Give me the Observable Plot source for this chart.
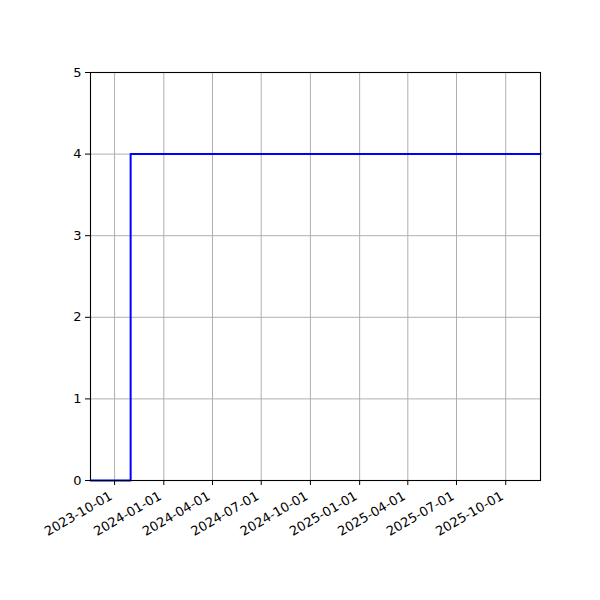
<!DOCTYPE html>
<html>
<head>
<meta charset="utf-8">
<script src="https://cdn.jsdelivr.net/npm/d3@7"></script>
<script src="https://cdn.jsdelivr.net/npm/@observablehq/plot@0.6"></script>
<style>
html, body { margin: 0; padding: 0; background: #fff; }
svg { display: block; }
</style>
</head>
<body>
<div id="chart"></div>
<script>
const dates = ["2023-08-17", "2023-10-31", "2025-12-05"];
const values = [0, 4, 4];
const xTicks = ["2023-10-01", "2024-01-01", "2024-04-01", "2024-07-01", "2024-10-01", "2025-01-01", "2025-04-01", "2025-07-01", "2025-10-01"];
const yTicks = [0, 1, 2, 3, 4, 5];

const parse = d3.utcParse("%Y-%m-%d");
const fmt = d3.utcFormat("%Y-%m-%d");
const data = dates.map((d, i) => ({date: parse(d), value: values[i]}));
const xTickDates = xTicks.map(parse);

const chart = Plot.plot({
  width: 600,
  height: 600,
  marginLeft: 90,
  marginRight: 60,
  marginTop: 72,
  marginBottom: 120,
  style: {fontFamily: "DejaVu Sans", fontSize: "13px", background: "#fff", color: "#000"},
  x: {
    type: "utc",
    domain: [data[0].date, data[data.length - 1].date],
    ticks: xTickDates,
    label: null
  },
  y: {
    domain: [0, 5],
    ticks: yTicks,
    label: null
  },
  marks: [
    Plot.gridX(xTickDates, {stroke: "#b0b0b0", strokeOpacity: 1, strokeWidth: 1}),
    Plot.gridY(yTicks, {stroke: "#b0b0b0", strokeOpacity: 1, strokeWidth: 1}),
    Plot.line(data, {x: "date", y: "value", curve: "step-after", stroke: "#0000ff", strokeWidth: 2}),
    Plot.frame({stroke: "#000", strokeWidth: 1.1}),
    Plot.axisX(xTickDates, {tickFormat: () => "", tickSize: 5, label: null}),
    Plot.text(xTickDates, {x: d => d, text: d => fmt(d), frameAnchor: "bottom", dy: 10, dx: -6, rotate: -30, textAnchor: "end", lineAnchor: "top", fontSize: 13, fill: "#000"}),
    Plot.axisY(yTicks, {tickSize: 5, tickPadding: 4, tickFormat: d => String(d), label: null, fontSize: 13})
  ]
});
document.getElementById("chart").appendChild(chart);
</script>
</body>
</html>
